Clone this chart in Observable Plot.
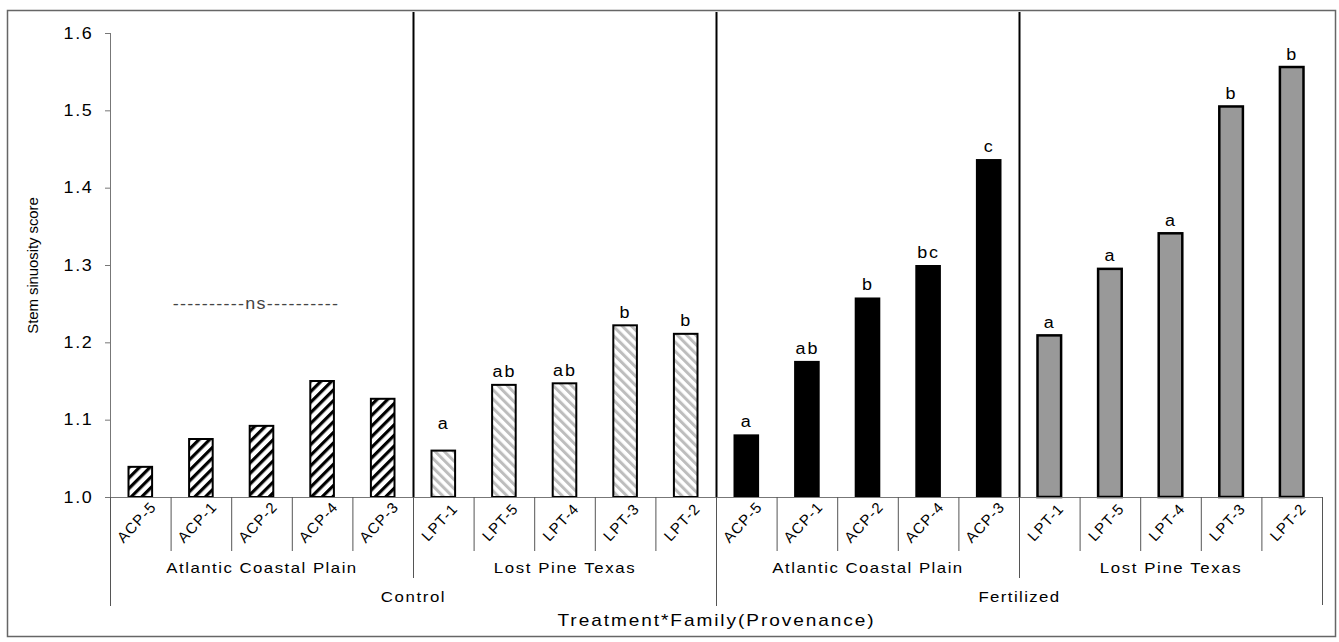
<!DOCTYPE html>
<html><head><meta charset="utf-8">
<script src="https://cdn.jsdelivr.net/npm/d3@7"></script>
<script src="https://cdn.jsdelivr.net/npm/@observablehq/plot@0.6"></script>
<style>html,body{margin:0;padding:0;background:#fff;} svg{display:block;}</style>
</head><body><div id="chart"></div>
<script>
// ---- data ----
const treatments = ["Control", "Fertilized"];
const provenances = ["Atlantic Coastal Plain", "Lost Pine Texas"];
const acpFamilies = ["ACP-5", "ACP-1", "ACP-2", "ACP-4", "ACP-3"];
const lptFamilies = ["LPT-1", "LPT-5", "LPT-4", "LPT-3", "LPT-2"];
const controlACP = [1.039, 1.075, 1.092, 1.150, 1.127];
const controlLPT = [1.060, 1.145, 1.147, 1.222, 1.211];
const fertilizedACP = [1.081, 1.176, 1.258, 1.300, 1.437];
const fertilizedLPT = [1.209, 1.295, 1.341, 1.505, 1.556];
const lettersControlACP = ["", "", "", "", ""];
const lettersControlLPT = ["a", "ab", "ab", "b", "b"];
const lettersFertilizedACP = ["a", "ab", "b", "bc", "c"];
const lettersFertilizedLPT = ["a", "a", "a", "b", "b"];
const nsLabel = "----------ns----------";
const nsValue = 1.25;
const yDomain = [1.0, 1.6];
const yTicks = [1.0, 1.1, 1.2, 1.3, 1.4, 1.5, 1.6];
const xTitle = "Treatment*Family(Provenance)";
const yTitle = "Stem sinuosity score";

// ---- table ----
const blocks = [
  {treatment: treatments[0], provenance: provenances[0], families: acpFamilies, values: controlACP, letters: lettersControlACP},
  {treatment: treatments[0], provenance: provenances[1], families: lptFamilies, values: controlLPT, letters: lettersControlLPT},
  {treatment: treatments[1], provenance: provenances[0], families: acpFamilies, values: fertilizedACP, letters: lettersFertilizedACP},
  {treatment: treatments[1], provenance: provenances[1], families: lptFamilies, values: fertilizedLPT, letters: lettersFertilizedLPT}
];
const rows = [];
blocks.forEach((b, bi) => b.families.forEach((f, i) => rows.push({
  block: bi, treatment: b.treatment, provenance: b.provenance, family: f,
  value: b.values[i], letter: b.letters[i], key: b.treatment + "|" + f
})));
const keys = rows.map(d => d.key);
const baseline = yDomain[0];

// ---- layout ----
const W = 1339, H = 642, ML = 110, MR = 17, MT = 33, MB = 145;
const innerH = H - MT - MB;
const step = (W - ML - MR) / keys.length;

const blockRows = i => rows.filter(d => d.block === i);
const provLabels = blocks.map((b, bi) => ({key: blockRows(bi)[2].key, label: b.provenance}));
const treatLabels = treatments.map(t => ({key: rows.filter(d => d.treatment === t)[5].key, label: t}));
const catBounds = keys.filter((k, i) => i % 5 !== 0);
const provBounds = keys.filter((k, i) => i % 5 === 0 && i % 10 !== 0);
const treatBounds = keys.filter((k, i) => i % 10 === 0);
const innerDividers = keys.filter((k, i) => i > 0 && i % 5 === 0);
const letterRows = rows.filter(d => d.letter);
const firstLetterRow = letterRows.filter((d, i) => i === 0);
const otherLetterRows = letterRows.filter((d, i) => i > 0);

const font = "Liberation Sans, Arial, Helvetica, sans-serif";

const plot = Plot.plot({
  width: W, height: H,
  marginLeft: ML, marginRight: MR, marginTop: MT, marginBottom: MB,
  style: {fontFamily: font, background: "white", color: "black", overflow: "visible"},
  x: {type: "band", domain: keys, padding: 0, round: false, axis: null},
  y: {domain: yDomain, axis: null},
  marks: [
    Plot.frame({stroke: "#666", strokeWidth: 1.5, insetLeft: -(ML - 7), insetTop: -(MT - 10), insetRight: -(MR - 4), insetBottom: -(MB - 6)}),
    // bars
    Plot.barY(blockRows(0), {x: "key", y1: () => baseline, y2: "value", fill: "url(#hatchBlack)", stroke: "black", strokeWidth: 2, insetLeft: 18.5, insetRight: 18.5}),
    Plot.barY(blockRows(1), {x: "key", y1: () => baseline, y2: "value", fill: "url(#hatchGray)", stroke: "black", strokeWidth: 2, insetLeft: 18.5, insetRight: 18.5}),
    Plot.barY(blockRows(2), {x: "key", y1: () => baseline, y2: "value", fill: "black", insetLeft: 17.5, insetRight: 17.5}),
    Plot.barY(blockRows(3), {x: "key", y1: () => baseline, y2: "value", fill: "#999", stroke: "black", strokeWidth: 2.5, insetLeft: 18.5, insetRight: 18.5}),
    // significance letters
    Plot.text(firstLetterRow, {x: "key", y: "value", text: "letter", dy: -27, fontSize: 16, lineAnchor: "middle"}),
    Plot.text(otherLetterRows, {x: "key", y: "value", text: "letter", dy: -13, fontSize: 16, lineAnchor: "middle"}),
    Plot.text([{key: blockRows(0)[2].key, v: nsValue, t: nsLabel}], {x: "key", y: "v", text: "t", dx: -6, fontSize: 16, fill: "#444", lineAnchor: "middle"}),
    // axis lines
    Plot.ruleY([baseline], {stroke: "#777"}),
    Plot.ruleX([keys[0]], {x: d => d, dx: -step / 2, stroke: "#777"}),
    Plot.ruleX(innerDividers, {x: d => d, dx: -step / 2, stroke: "black", strokeWidth: 2, insetTop: -(MT - 12)}),
    // hierarchical separators below the axis
    Plot.ruleX(catBounds, {x: d => d, dx: -step / 2, stroke: "#555", insetTop: innerH, insetBottom: -54}),
    Plot.ruleX(provBounds, {x: d => d, dx: -step / 2, stroke: "#555", insetTop: innerH, insetBottom: -81}),
    Plot.ruleX(treatBounds, {x: d => d, dx: -step / 2, stroke: "#555", insetTop: innerH, insetBottom: -109}),
    Plot.ruleX([keys[keys.length - 1]], {x: d => d, dx: step / 2, stroke: "#555", insetTop: innerH, insetBottom: -108}),
    // y axis
    Plot.axisY({ticks: yTicks, tickFormat: d => d.toFixed(1), tickSize: 5, tickPadding: 12, fontSize: 16, stroke: "#777", label: null}),
    // x labels
    Plot.text(rows, {x: "key", text: "family", frameAnchor: "bottom", dy: 25, dx: -4, rotate: -47, fontSize: 15, lineAnchor: "middle"}),
    Plot.text(provLabels, {x: "key", text: "label", frameAnchor: "bottom", dy: 71, fontSize: 15, lineAnchor: "middle"}),
    Plot.text(treatLabels, {x: "key", text: "label", frameAnchor: "bottom", dx: -step / 2, dy: 100, fontSize: 15, lineAnchor: "middle"}),
    Plot.text([xTitle], {frameAnchor: "bottom", dy: 123, fontSize: 17, lineAnchor: "middle"}),
    Plot.text([yTitle], {frameAnchor: "left", dx: -77, rotate: -90, fontSize: 15, textAnchor: "middle", lineAnchor: "middle"})
  ]
});

// patterns
const defs = d3.select(plot).insert("defs", ":first-child");
const p1 = defs.append("pattern").attr("id", "hatchBlack").attr("patternUnits", "userSpaceOnUse")
  .attr("width", 7.5).attr("height", 7.5).attr("patternTransform", "rotate(45)");
p1.append("rect").attr("width", 7.5).attr("height", 7.5).attr("fill", "white");
p1.append("rect").attr("width", 3.2).attr("height", 7.5).attr("fill", "black");
const p2 = defs.append("pattern").attr("id", "hatchGray").attr("patternUnits", "userSpaceOnUse")
  .attr("width", 6.5).attr("height", 6.5).attr("patternTransform", "rotate(-45)");
p2.append("rect").attr("width", 6.5).attr("height", 6.5).attr("fill", "white");
p2.append("rect").attr("width", 3).attr("height", 6.5).attr("fill", "#bdbdbd");

document.getElementById("chart").append(plot);

// the original figure is horizontally stretched: widen text (part glyph stretch, part spacing)
d3.select(plot).selectAll("text").each(function () {
  if (this.querySelector("tspan")) return;
  if (this.textContent === yTitle) {
    this.style.letterSpacing = "-0.1px";
    return;
  }
  const tr = this.getAttribute("transform") || "";
  const rotated = tr.includes("rotate");
  const total = rotated ? 1.12 : 1.35;
  const glyph = rotated ? 1.0 : 1.12;
  const len0 = this.getComputedTextLength();
  const n = Math.max(1, this.getNumberOfChars());
  const target = len0 * total;
  const ls = (target / glyph - len0) / n;
  this.style.letterSpacing = ls + "px";
  const len1 = this.getComputedTextLength();
  if (glyph !== 1) {
    this.setAttribute("textLength", len1 * glyph);
    this.setAttribute("lengthAdjust", "spacingAndGlyphs");
  }
});
</script>
</body></html>
